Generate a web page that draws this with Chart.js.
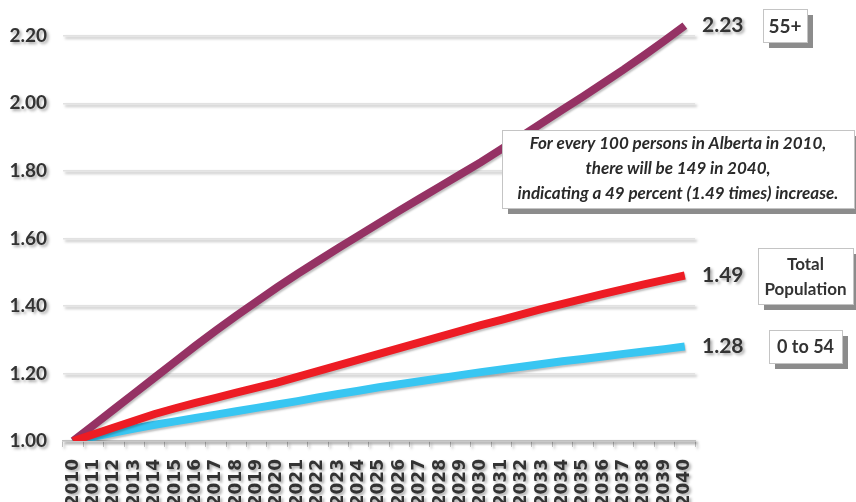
<!DOCTYPE html>
<html>
<head>
<meta charset="utf-8">
<script src="https://cdn.jsdelivr.net/npm/chart.js@4.4.1/dist/chart.umd.min.js"></script>
<style>
html,body{margin:0;padding:0;background:#fff;}
</style>
</head>
<body>
<canvas id="growth" width="856" height="502"></canvas>
<script>
// population index, 2010 = 1.00

const years = ["2010","2011","2012","2013","2014","2015","2016","2017","2018","2019","2020",
"2021","2022","2023","2024","2025","2026","2027","2028","2029","2030",
"2031","2032","2033","2034","2035","2036","2037","2038","2039","2040"];

const totalPop = [1.000,1.020,1.040,1.060,1.080,1.097,1.113,1.128,1.143,1.158,1.173,
1.190,1.207,1.224,1.241,1.258,1.275,1.292,1.309,1.326,1.343,
1.359,1.375,1.391,1.406,1.421,1.436,1.450,1.464,1.477,1.490];

const age55 = [1.000,1.047,1.094,1.141,1.188,1.235,1.282,1.327,1.371,1.413,1.455,
1.495,1.533,1.571,1.608,1.645,1.682,1.718,1.754,1.790,1.826,
1.864,1.903,1.942,1.981,2.020,2.060,2.100,2.142,2.185,2.230];

const age0to54 = [1.000,1.012,1.025,1.037,1.048,1.058,1.068,1.078,1.088,1.098,1.108,
1.118,1.129,1.139,1.149,1.159,1.168,1.177,1.186,1.195,1.204,
1.212,1.220,1.228,1.236,1.243,1.250,1.258,1.265,1.272,1.280];

const yTicks = [1.00,1.20,1.40,1.60,1.80,2.00,2.20];

const boxText = [["Total","Population"],["55+"],["0 to 54"]];

const note = [
  "For every 100 persons in Alberta in 2010,",
  "there will be 149 in 2040,",
  "indicating a 49 percent (1.49 times) increase."
];

const textColor = "#333333";

// shadow under axes, grid and lines
const shadowPlugin = {
  id: "shadows",
  beforeDraw(chart) {
    const c = chart.ctx;
    c.save();
    c.shadowColor = "rgba(0,0,0,0.35)";
    c.shadowOffsetX = 2;
    c.shadowOffsetY = 2;
    c.shadowBlur = 3;
  },
  beforeDatasetsDraw(chart) {
    const c = chart.ctx;
    c.shadowColor = "rgba(0,0,0,0.25)";
    c.shadowOffsetX = 1;
    c.shadowOffsetY = 2;
    c.shadowBlur = 2;
  },
  afterDraw(chart) {
    chart.ctx.restore();
  }
};

function drawBox(c, x, y, w, h) {
  c.fillStyle = "#8c8c8c";
  c.fillRect(x + 6, y + 6, w, h);
  c.fillStyle = "#ffffff";
  c.fillRect(x, y, w, h);
  c.strokeStyle = "#c4c4c4";
  c.lineWidth = 1;
  c.strokeRect(x + 0.5, y + 0.5, w, h);
}

// end values, series boxes and the note
const labelPlugin = {
  id: "endLabels",
  afterDraw(chart) {
    const c = chart.ctx;
    const y = chart.scales.y;
    const boxes = [
      {x: 758, w: 95, h: 56, size: 17},
      {x: 763, w: 44, h: 33, size: 19},
      {x: 769, w: 73, h: 33, size: 18}
    ];
    c.save();
    chart.data.datasets.forEach((ds, i) => {
      const v = ds.data[ds.data.length - 1];
      const py = y.getPixelForValue(v);
      c.save();
      c.shadowColor = "rgba(0,0,0,0.35)";
      c.shadowOffsetX = 2;
      c.shadowOffsetY = 2;
      c.shadowBlur = 3;
      c.fillStyle = textColor;
      c.font = "bold 21px Lato";
      c.textAlign = "left";
      c.textBaseline = "middle";
      c.fillText(v.toFixed(2), 702, py);
      c.restore();

      const b = boxes[i];
      const top = Math.round(py - b.h / 2);
      drawBox(c, b.x, top, b.w, b.h);
      c.fillStyle = textColor;
      c.font = "bold " + b.size + "px Lato";
      c.textAlign = "center";
      c.textBaseline = "middle";
      const lines = boxText[i];
      const lh = 25;
      lines.forEach((t, k) => {
        c.fillText(t, b.x + b.w / 2, top + b.h / 2 + (k - (lines.length - 1) / 2) * lh + 1);
      });
    });

    drawBox(c, 502, 130, 352, 78);
    c.fillStyle = "#2a2a2a";
    c.font = "italic bold 17px Lato";
    c.textAlign = "center";
    c.textBaseline = "middle";
    note.forEach((t, k) => {
      c.fillText(t, 678, 144 + k * 25, 338);
    });
    c.restore();
  }
};

new Chart(document.getElementById("growth"), {
  type: "line",
  data: {
    labels: years,
    datasets: [
      {
        label: "Total Population",
        data: totalPop,
        borderColor: "#ed1c24",
        borderWidth: 8,
        pointRadius: 0,
        tension: 0
      },
      {
        label: "55+",
        data: age55,
        borderColor: "#953264",
        borderWidth: 8,
        pointRadius: 0,
        tension: 0
      },
      {
        label: "0 to 54",
        data: age0to54,
        borderColor: "#38c6f2",
        borderWidth: 8,
        pointRadius: 0,
        tension: 0
      }
    ]
  },
  options: {
    responsive: false,
    animation: false,
    devicePixelRatio: 1,
    layout: {
      padding: {top: 2, right: 161, left: 0, bottom: 0}
    },
    plugins: {
      legend: {display: false},
      tooltip: {enabled: false}
    },
    scales: {
      x: {
        offset: true,
        grid: {
          offset: true,
          drawOnChartArea: false,
          drawTicks: true,
          tickLength: 6,
          color: "#bfbfbf"
        },
        border: {display: true, color: "#bfbfbf", width: 1.5},
        ticks: {
          color: textColor,
          autoSkip: false,
          maxRotation: 90,
          minRotation: 90,
          padding: 12,
          font: {family: "DejaVu Sans", weight: "bold", size: 17}
        },
        afterFit(scale) {
          scale.height = 61;
          scale.paddingLeft = 0;
          scale.paddingRight = 0;
        }
      },
      y: {
        min: 1.0,
        max: 2.3,
        afterBuildTicks(scale) {
          scale.ticks = yTicks.map(v => ({value: v}));
        },
        grid: {
          color: "#e2e2e2",
          lineWidth: 1.5,
          drawTicks: false
        },
        border: {display: false},
        ticks: {
          color: textColor,
          padding: 16,
          font: {family: "Lato", weight: "bold", size: 19},
          callback: v => Number(v).toFixed(2)
        },
        afterFit(scale) {
          scale.width = 63;
          scale.paddingTop = 0;
          scale.paddingBottom = 0;
        }
      }
    }
  },
  plugins: [shadowPlugin, labelPlugin]
});
</script>
</body>
</html>
